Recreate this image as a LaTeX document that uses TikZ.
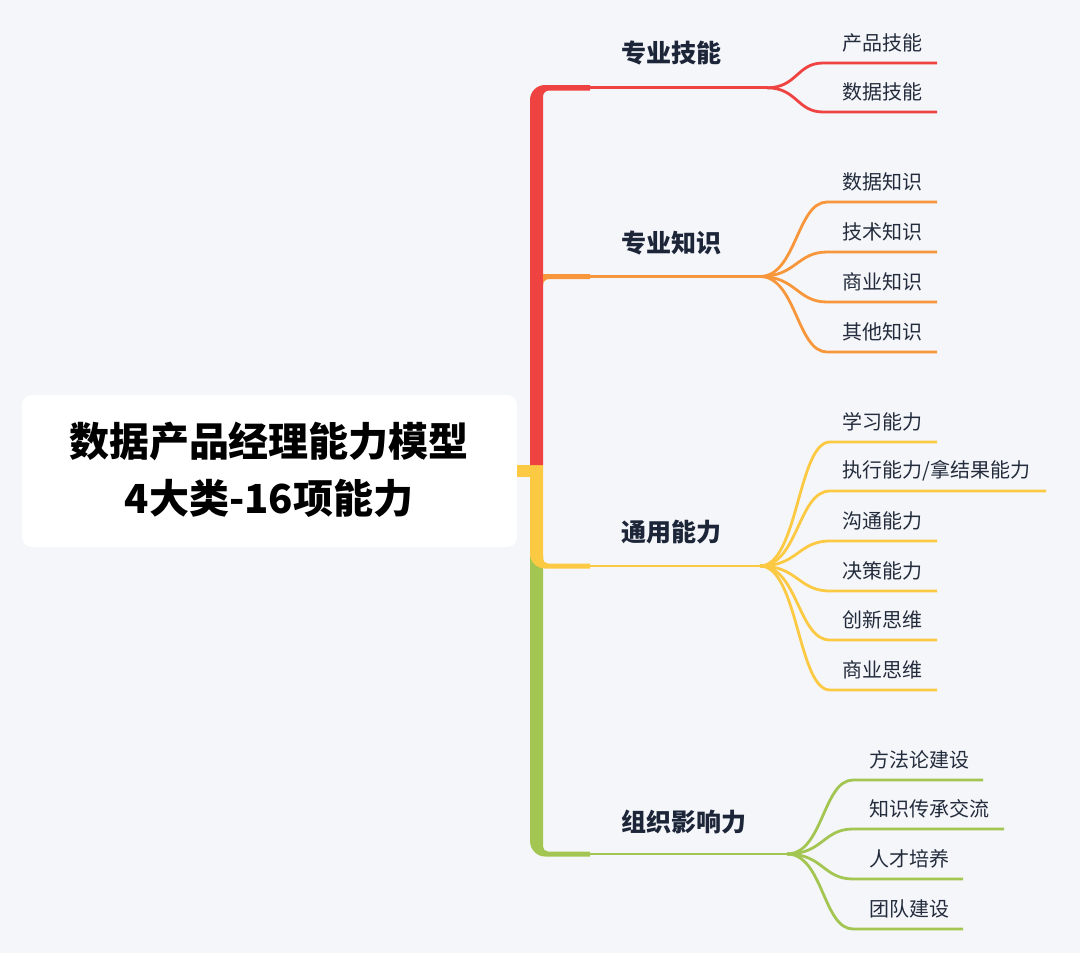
\documentclass[tikz,border=0pt]{standalone}
\usepackage{fontspec}
\setmainfont{Noto Sans CJK SC}
\definecolor{bg}{HTML}{F5F6FA}
\definecolor{cred}{HTML}{EE4340}
\definecolor{corange}{HTML}{F7963A}
\definecolor{cyellow}{HTML}{FCC943}
\definecolor{cgreen}{HTML}{A3C551}
\definecolor{navy}{HTML}{1C2638}
\definecolor{leafc}{HTML}{232C3C}
\begin{document}
\begin{tikzpicture}[x=1pt,y=-1pt,
  rootbox/.style={fill=white, rounded corners=10pt, draw=none},
  roottxt/.style={font=\fontsize{40}{57}\selectfont\bfseries, text=black, align=center, inner sep=0},
  mainlbl/.style={font=\fontsize{25}{30}\selectfont\bfseries, text=navy, anchor=west, inner sep=0},
  leaflbl/.style={font=\fontsize{20}{24}\selectfont, text=leafc, anchor=west, inner sep=0},
  thinline/.style={line width=2.8pt, line cap=round},
  leafline/.style={line width=2.8pt}
]
\useasboundingbox (0,0) rectangle (1080,953);
\fill[bg] (0,0) rectangle (1080,953);

% root box
\fill[rootbox] (22,395) rectangle (517,547);
\node[roottxt] (root) at (269,470) {数据产品经理能力模型\\4大类-16项能力};

% trunk pieces
\fill[cgreen] (530,555) -- (530,841) .. controls (530,849.3) and (536.7,856.5) .. (545,856.5) -- (590,856.5) -- (590,851.5) -- (548,851.5) .. controls (545.2,851.5) and (543,849.3) .. (543,846.5) -- (543,555) -- cycle;
\fill[cyellow] (517,465) rectangle (530,477);
\fill[cyellow] (530,465) -- (530,554) .. controls (530,562) and (537,568.5) .. (545,568.5) -- (590,568.5) -- (590,563.5) -- (548,563.5) .. controls (545.2,563.5) and (543,561.3) .. (543,558.5) -- (543,465) -- cycle;
\fill[cred] (530,465) -- (530,100) .. controls (530,91.7) and (536.7,85) .. (545,85) -- (590,85) -- (590,90.5) -- (549,90.5) .. controls (545.7,90.5) and (543,93.2) .. (543,96.5) -- (543,465) -- cycle;
\fill[corange] (543,274) -- (590,274) -- (590,279) -- (549,279) .. controls (545.7,279) and (543,281.7) .. (543,285) -- cycle;

% main branch coordinates
\coordinate (s1) at (589,87.8);  \coordinate (f1) at (767,87.8);
\coordinate (s2) at (589,276.5); \coordinate (f2) at (760,276.5);
\coordinate (s3) at (589,566);   \coordinate (f3) at (760,566);
\coordinate (s4) at (589,854);   \coordinate (f4) at (787,854);
\draw[cred,thinline] (s1) -- (f1);
\draw[corange,thinline] (s2) -- (f2);
\draw[cyellow,thinline] (s3) -- (f3);
\draw[cgreen,thinline] (s4) -- (f4);

\node[mainlbl] (m1) at (621,53) {专业技能};
\node[mainlbl] (m2) at (621,243) {专业知识};
\node[mainlbl] (m3) at (621,532) {通用能力};
\node[mainlbl] (m4) at (621,822) {组织影响力};

% red leaves
\foreach \i/\y/\e/\t in {1/63/937/{产品技能}, 2/112/937/{数据技能}}{
  \coordinate (r\i s) at (823,\y); \coordinate (r\i e) at (\e,\y);
  \node[leaflbl] (r\i) at (842,\y-20) {\t};
  \draw[cred,leafline] (f1) .. controls +(30,0) and +(-26,0) .. (r\i s) -- (r\i e);
}
% orange leaves
\foreach \i/\y/\e/\t in {1/202/937/{数据知识}, 2/252/937/{技术知识}, 3/302/937/{商业知识}, 4/352/937/{其他知识}}{
  \coordinate (o\i s) at (827,\y); \coordinate (o\i e) at (\e,\y);
  \node[leaflbl] (o\i) at (842,\y-20) {\t};
  \draw[corange,leafline] (f2) .. controls +(36,0) and +(-30,0) .. (o\i s) -- (o\i e);
}
% yellow leaves
\foreach \i/\y/\e/\t in {1/442/937/{学习能力}, 2/491/1046/{执行能力/拿结果能力}, 3/541/937/{沟通能力}, 4/591/937/{决策能力}, 5/640/937/{创新思维}, 6/690/937/{商业思维}}{
  \coordinate (y\i s) at (830,\y); \coordinate (y\i e) at (\e,\y);
  \node[leaflbl] (y\i) at (842,\y-20) {\t};
  \draw[cyellow,leafline] (f3) .. controls +(38,0) and +(-32,0) .. (y\i s) -- (y\i e);
}
% green leaves
\foreach \i/\y/\e/\t in {1/780/983/{方法论建设}, 2/829/1004/{知识传承交流}, 3/879/963/{人才培养}, 4/929/963/{团队建设}}{
  \coordinate (g\i s) at (853,\y); \coordinate (g\i e) at (\e,\y);
  \node[leaflbl] (g\i) at (869,\y-20) {\t};
  \draw[cgreen,leafline] (f4) .. controls +(36,0) and +(-30,0) .. (g\i s) -- (g\i e);
}
\end{tikzpicture}
\end{document}
